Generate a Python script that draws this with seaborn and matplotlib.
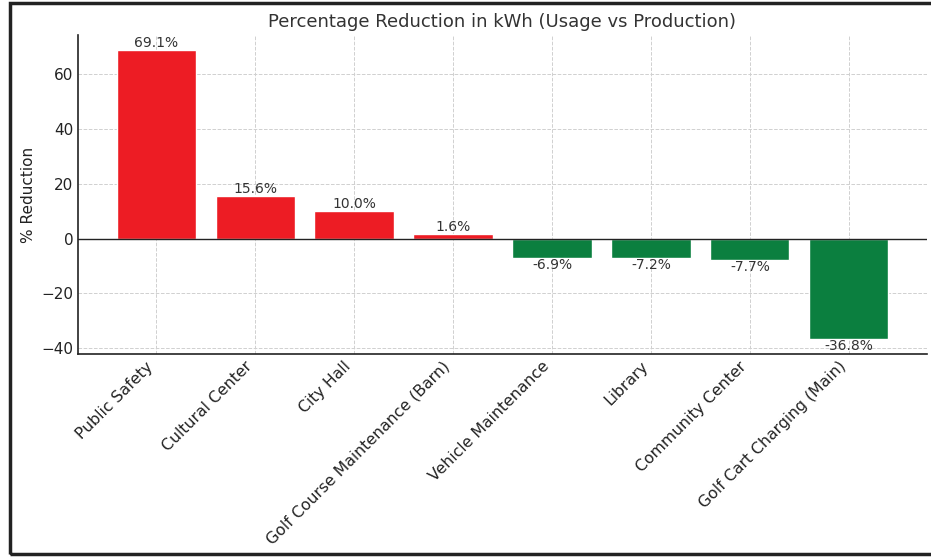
import matplotlib
matplotlib.use("Agg")
import matplotlib.pyplot as plt
from matplotlib.patches import Rectangle
import seaborn as sns
import pandas as pd

categories = ["Public Safety", "Cultural Center", "City Hall", "Golf Course Maintenance (Barn)",
              "Vehicle Maintenance", "Library", "Community Center", "Golf Cart Charging (Main)"]
values = [69.1, 15.6, 10.0, 1.6, -6.9, -7.2, -7.7, -36.8]

RED = "#ED1C24"
GREEN = "#0B7F3F"

sns.set_style("white")
plt.rcParams['font.family'] = ['DejaVu Sans']

df = pd.DataFrame({"cat": categories, "val": values})
df["sign"] = ["pos" if v > 0 else "neg" for v in values]

fig = plt.figure(figsize=(9.31, 5.57), dpi=100)
ax = fig.add_axes([78/931, 1-354/557, (927-78)/931, (354-35)/557])

sns.barplot(data=df, x="cat", y="val", hue="sign", palette={"pos": RED, "neg": GREEN},
            dodge=False, width=0.8, saturation=1, legend=False, ax=ax, zorder=2)

ax.axhline(0, color="#222222", linewidth=1, zorder=3)
ax.grid(True, linestyle="--", color="#d0d0d0", linewidth=0.7, zorder=0)
ax.set_axisbelow(True)

for cont in ax.containers:
    for bar in cont:
        h = bar.get_height()
        if h != h:
            continue
        x = bar.get_x() + bar.get_width() / 2
        ax.text(x, h, f"{h:.1f}%", ha="center", va="bottom" if h > 0 else "top",
                fontsize=10, color="#333333", zorder=4)

ax.set_xlim(-0.79, 7.79)
ax.set_ylim(-42.1, 74.4)
ax.set_xlabel("")
ax.set_ylabel("% Reduction", fontsize=11, color="#222222")
ax.set_title("Percentage Reduction in kWh (Usage vs Production)", fontsize=13, color="#333333", pad=6)
ax.set_xticks(range(len(categories)))
ax.set_xticklabels(categories, rotation=45, ha="right", fontsize=11.3, color="#222222")
ax.tick_params(axis="y", labelsize=11, labelcolor="#222222")
ax.tick_params(direction="in", length=4, color="#222222", width=1)
for s in ["top", "right"]:
    ax.spines[s].set_visible(False)
for s in ["left", "bottom"]:
    ax.spines[s].set_color("#222222")
    ax.spines[s].set_linewidth(1.2)

fig.patches.append(Rectangle((10/931, 3/557), 1.0, 551/557, transform=fig.transFigure,
                             fill=False, edgecolor="#222222", linewidth=2.5, zorder=10))

fig.savefig("out.png", dpi=100)
